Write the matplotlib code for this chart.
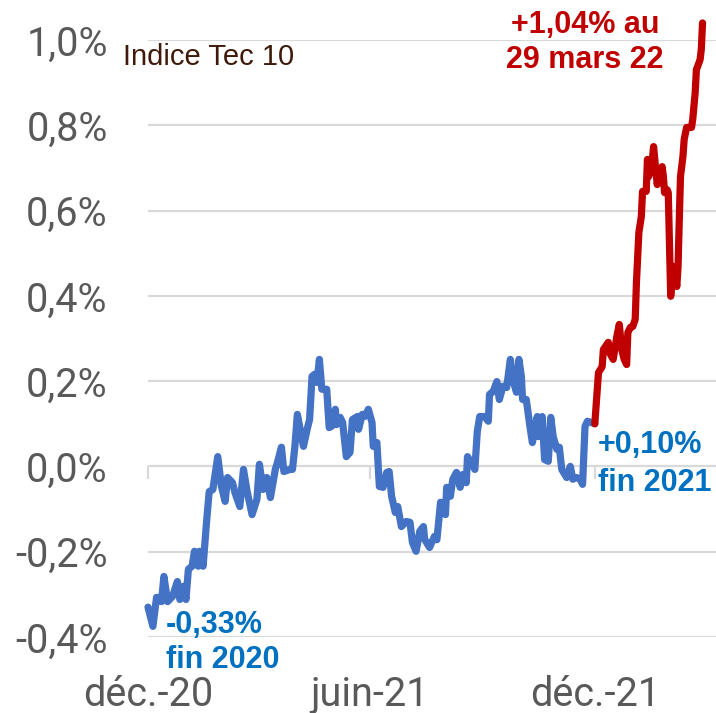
import numpy as np
import matplotlib
matplotlib.use("Agg")
import matplotlib.pyplot as plt

# ---- data (days since 2020-12-31, value in %) ----
base_date = "2020-12-31"
blue_days = [0, 4, 7, 11, 13, 16, 20, 24, 26, 29,
             31, 33, 36, 38, 41, 42, 45, 48, 50, 53,
             57, 60, 63, 65, 69, 71, 75, 78, 81, 85,
             89, 91, 94, 97, 100, 104, 106, 109, 111, 116,
             118, 120, 122, 127, 130, 132, 134, 136, 138, 140,
             142, 146, 148, 150, 153, 154, 157, 159, 162, 165,
             167, 171, 172, 175, 177, 180, 183, 184, 187, 189,
             192, 195, 197, 199, 202, 204, 207, 211, 214, 216,
             219, 222, 225, 226, 230, 234, 236, 239, 243, 244,
             247, 249, 252, 255, 257, 260, 261, 265, 267, 269,
             271, 275, 278, 279, 282, 285, 287, 290, 293, 296,
             298, 301, 303, 305, 306, 309, 312, 314, 318, 319,
             322, 324, 327, 329, 331, 334, 336, 338, 342, 345,
             347, 350, 353, 355, 357, 359, 365]
blue_vals = [-0.33, -0.375, -0.307, -0.317, -0.258, -0.317, -0.305, -0.270, -0.312, -0.281,
             -0.312, -0.241, -0.234, -0.199, -0.234, -0.199, -0.234, -0.124, -0.059, -0.054,
             0.023, -0.047, -0.082, -0.026, -0.038, -0.061, -0.094, -0.007, -0.059, -0.113,
             -0.077, 0.005, -0.054, -0.026, -0.073, -0.007, 0.012, 0.045, -0.012, -0.007,
             -0.007, 0.047, 0.122, 0.047, 0.087, 0.110, 0.211, 0.216, 0.197, 0.251,
             0.181, 0.181, 0.091, 0.094, 0.134, 0.098, 0.115, 0.103, 0.023, 0.033,
             0.110, 0.117, 0.087, 0.122, 0.117, 0.134, 0.103, 0.047, 0.056, -0.047,
             -0.049, -0.014, -0.012, -0.070, -0.108, -0.094, -0.141, -0.129, -0.131, -0.178,
             -0.199, -0.152, -0.141, -0.171, -0.190, -0.164, -0.172, -0.084, -0.113, -0.049,
             -0.070, -0.030, -0.014, -0.049, -0.019, -0.038, 0.023, 0.005, -0.007, 0.082,
             0.117, 0.117, 0.106, 0.169, 0.176, 0.199, 0.157, 0.188, 0.185, 0.251,
             0.204, 0.174, 0.251, 0.211, 0.157, 0.157, 0.094, 0.056, 0.117, 0.070,
             0.117, 0.016, 0.012, 0.115, 0.070, 0.040, 0.045, -0.007, -0.026, 0.000,
             -0.030, -0.026, -0.030, -0.042, 0.094, 0.106, 0.10]
red_days = [365, 368, 371, 372, 376, 377, 380, 383, 385, 387,
            389, 391, 392, 394, 396, 398, 399, 401, 403, 404,
            407, 408, 409, 412, 413, 415, 416, 417, 420, 421,
            422, 424, 425, 427, 429, 430, 432, 433, 434, 435,
            437, 438, 440, 444, 445, 447, 448, 449, 451, 452,
            453]
red_vals = [0.10, 0.220, 0.234, 0.274, 0.291, 0.267, 0.251, 0.305, 0.333, 0.274,
            0.251, 0.239, 0.314, 0.326, 0.328, 0.345, 0.431, 0.549, 0.586, 0.645,
            0.645, 0.720, 0.680, 0.720, 0.750, 0.689, 0.661, 0.678, 0.703, 0.680,
            0.642, 0.649, 0.642, 0.399, 0.469, 0.455, 0.422, 0.469, 0.579, 0.680,
            0.727, 0.767, 0.795, 0.795, 0.814, 0.877, 0.931, 0.938, 0.954, 0.978,
            1.04]
x_tick_dates = ["2020-12-31", "2021-06-30", "2021-12-31"]
x_tick_labels = ["déc.-20", "juin-21", "déc.-21"]
y_ticks = [-0.4, -0.2, 0.0, 0.2, 0.4, 0.6, 0.8, 1.0]
y_tick_labels = ["-0,4%", "-0,2%", "0,0%", "0,2%", "0,4%", "0,6%", "0,8%", "1,0%"]
title_text = "Indice Tec 10"
label_end = ["+1,04% au", "29 mars 22"]
label_2021 = ["+0,10%", "fin 2021"]
label_2020 = ["-0,33%", "fin 2020"]

assert len(blue_days) == len(blue_vals)
assert len(red_days) == len(red_vals)

base = np.datetime64(base_date)
bx = base + np.array(blue_days, dtype="timedelta64[D]")
rx = base + np.array(red_days, dtype="timedelta64[D]")

W, H = 716, 713
fig = plt.figure(figsize=(W / 100, H / 100), dpi=100)
ax = fig.add_axes([148 / W, 76 / H, 568 / W, 597 / H])

grid_c = "#d9d9d9"
for yv in y_ticks:
    ax.axhline(yv, color=grid_c, lw=1.6, zorder=1)

ax.plot(bx, blue_vals, color="#4472C4", lw=5.2, solid_joinstyle="round",
        solid_capstyle="round", zorder=3, clip_on=False)
ax.plot(rx, red_vals, color="#C00000", lw=5.2, solid_joinstyle="round",
        solid_capstyle="round", zorder=4, clip_on=False)

ax.set_ylim(-0.4, 1.0)
ax.set_xlim(base, base + np.timedelta64(464, "D"))

for s in ax.spines.values():
    s.set_visible(False)

tick_font = dict(family=["Roboto", "DejaVu Sans"], size=28.5)
ax.set_yticks(y_ticks)
ax.set_yticklabels(y_tick_labels, fontdict=tick_font, color="#595959")
ax.tick_params(axis="y", length=0, pad=29)

xt = [np.datetime64(d) for d in x_tick_dates]
ax.set_xticks(xt)
ax.set_xticklabels(x_tick_labels, fontdict=tick_font, color="#595959")
ax.tick_params(axis="x", length=0, pad=27)

# tick marks on the zero line
sec = ax.secondary_xaxis(0.4 / 1.4)
sec.set_xticks(xt)
sec.set_xticklabels([""] * len(xt))
sec.tick_params(axis="x", direction="out", length=9, width=1.6, color=grid_c)
for s in sec.spines.values():
    s.set_visible(False)

def px(x, y):
    return x / W, 1 - y / H

lab_font = ["Liberation Sans", "DejaVu Sans"]
fig.text(*px(123, 65), title_text, family=lab_font, fontsize=21,
         color="#3F1A0A", ha="left", va="baseline")
fig.text(*px(585, 33), label_end[0], family=lab_font, fontsize=22, weight="bold",
         color="#C00000", ha="center", va="baseline")
fig.text(*px(585, 68), label_end[1], family=lab_font, fontsize=22, weight="bold",
         color="#C00000", ha="center", va="baseline")
fig.text(*px(598, 453), label_2021[0], family=lab_font, fontsize=22, weight="bold",
         color="#0070C0", ha="left", va="baseline")
fig.text(*px(598, 491), label_2021[1], family=lab_font, fontsize=22, weight="bold",
         color="#0070C0", ha="left", va="baseline")
fig.text(*px(166, 633), label_2020[0], family=lab_font, fontsize=22, weight="bold",
         color="#0070C0", ha="left", va="baseline")
fig.text(*px(166, 668), label_2020[1], family=lab_font, fontsize=22, weight="bold",
         color="#0070C0", ha="left", va="baseline")

fig.savefig("out.png", dpi=100)
